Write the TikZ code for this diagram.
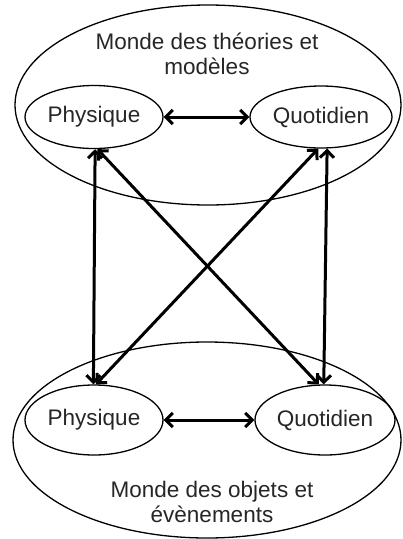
\documentclass[tikz,border=0pt]{standalone}
\usepackage{fontspec}
\setmainfont{Liberation Sans}
\usetikzlibrary{shapes.geometric,arrows.meta}
\definecolor{txt}{rgb}{0.15,0.15,0.15}
\begin{document}
\begin{tikzpicture}[x=1pt,y=-1pt,
  world/.style={ellipse,draw,line width=1.3pt,inner sep=0pt},
  sub/.style={ellipse,draw,line width=1.3pt,inner sep=0pt,text=txt,font=\fontsize{22.5}{25}\selectfont},
  lbl/.style={align=center,text=txt,font=\fontsize{22.5}{25}\selectfont},
  link/.style={line width=3pt,{Straight Barb[length=7pt,width=14pt]}-{Straight Barb[length=7pt,width=14pt]}}]
\useasboundingbox (0,0) rectangle (403,539);
\node[world,minimum width=386pt,minimum height=200pt] (tw) at (208,105) {};
\node[world,minimum width=388pt,minimum height=196pt] (bw) at (207,440) {};
\node[lbl] (tt) at (207,54) {Monde des théories et\\modèles};
\node[lbl] (bt) at (212,502) {Monde des objets et\\évènements};
\node[sub,minimum width=138pt,minimum height=63pt] (tp) at (94,117) {Physique};
\node[sub,minimum width=142pt,minimum height=62pt] (tq) at (321,117) {Quotidien};
\node[sub,minimum width=138pt,minimum height=70pt] (bp) at (94,420) {Physique};
\node[sub,minimum width=140pt,minimum height=70pt] (bq) at (325,420) {Quotidien};
\draw[link] (tp.east) -- (tq.west);
\draw[link] (bp.east) -- (bq.west);
\draw[link] (tp.-88) -- (bp.91);
\draw[link] (tq.-79) -- (bq.92);
\draw[link] (tp.-84) -- (bq.100);
\draw[link] (tq.-95) -- (bp.87);
\end{tikzpicture}
\end{document}
